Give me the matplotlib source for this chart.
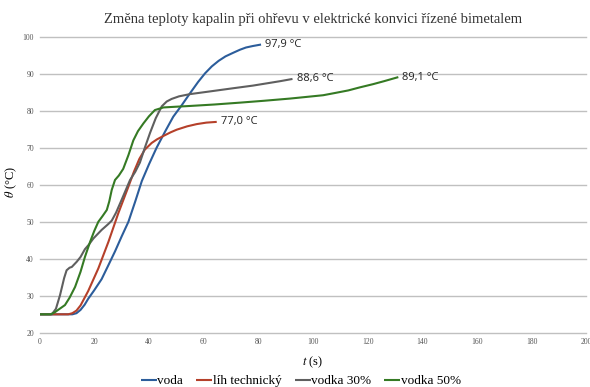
import matplotlib
matplotlib.use("Agg")
import matplotlib.pyplot as plt

# namerene hodnoty
t_voda = [0, 12, 13.5, 15, 16.5, 17.8, 20, 22.7, 25, 27.6, 30, 32.5, 35, 37.4, 40, 42.8, 46, 48.9, 52, 55, 58, 60.5, 63, 65.5, 68, 70.9, 73.3, 75.5, 78, 81]
T_voda = [25, 25, 25.3, 26.2, 27.6, 29.2, 31.5, 34.5, 38, 42, 46, 50, 55.5, 61, 65.5, 70, 74.5, 78.4, 81.5, 84.7, 87.8, 90.1, 92, 93.5, 94.7, 95.7, 96.5, 97.1, 97.5, 97.9]

t_lih = [0, 10.5, 12, 13.5, 15, 17.8, 21.5, 25.2, 28.8, 32.5, 34.5, 36.5, 38.5, 41, 43, 45.3, 48, 50.2, 54, 57.5, 61, 64.8]
T_lih = [25, 25, 25.3, 26, 27.4, 31.3, 37.4, 44.6, 52.3, 59.5, 63.5, 67, 69.5, 71.3, 72.3, 73.2, 74.2, 74.9, 75.8, 76.4, 76.8, 77.0]

t_v30 = [0, 4.5, 6, 7.5, 9, 9.9, 11, 11.8, 13.6, 15, 16.6, 18, 19.7, 22.7, 25, 26.4, 28, 30, 33.1, 35, 36.7, 38.5, 40.4, 42.5, 44.7, 46.5, 48.3, 51, 55, 62, 70.9, 78, 83, 88, 92.5]
T_v30 = [25, 25, 26.5, 30.2, 34.8, 36.9, 37.6, 37.8, 39.2, 40.5, 42.6, 43.8, 45.5, 47.8, 49.3, 50.3, 52.5, 55.9, 61.3, 63.5, 66, 70, 74, 78, 81.2, 82.5, 83.2, 83.9, 84.5, 85.2, 86.1, 86.8, 87.4, 88.0, 88.6]

t_v50 = [0, 4, 5.5, 7, 9.3, 11, 13, 15, 16.6, 18.5, 20, 21.5, 23, 24.6, 25.5, 26.4, 27.6, 29, 30.6, 32.5, 34.3, 36, 38, 40, 42.2, 45.3, 50, 55, 64, 73.3, 82, 91.6, 97, 103.7, 108, 112.9, 117, 122, 126, 131.2]
T_v50 = [25, 25, 25.5, 26.3, 27.5, 29.5, 32.4, 36.5, 40.5, 44.6, 47.5, 50, 51.5, 53.2, 55.5, 58.6, 61.3, 62.5, 64.3, 68, 72, 74.5, 76.6, 78.5, 80.2, 80.9, 81.1, 81.3, 81.7, 82.2, 82.7, 83.3, 83.7, 84.2, 84.8, 85.5, 86.3, 87.2, 88, 89.1]

names = ["voda", "líh technický", "vodka 30%", "vodka 50%"]
colors = ["#2c5d9b", "#b5402a", "#5f5f5f", "#357a24"]
end_labels = ["97,9 °C", "77,0 °C", "88,6 °C", "89,1 °C"]

plt.rcParams["font.family"] = ["Liberation Serif", "DejaVu Serif"]
plt.rcParams["mathtext.fontset"] = "stix"

fig = plt.figure(figsize=(5.9, 3.87), dpi=100)
ax = fig.add_axes([0.067, 0.14, 0.927, 0.765])

series = [(t_voda, T_voda), (t_lih, T_lih), (t_v30, T_v30), (t_v50, T_v50)]
for (t, T), name, c, lab in zip(series, names, colors, end_labels):
    ax.plot(t, T, color=c, lw=1.5, label=name, solid_capstyle="butt")
    ax.annotate(lab, (t[-1], T[-1]), xytext=(3, 0), textcoords="offset points",
                va="center", ha="left", fontsize=8, family="Open Sans", color="#222222")

ax.set_xlim(0, 200)
ax.set_ylim(20, 100)
ax.set_xticks(range(0, 201, 20))
ax.set_yticks(range(20, 101, 10))
ax.grid(axis="y", color="#c0c0c0", lw=1)
for gl in ax.get_ygridlines():
    gl.set_clip_on(False)
ax.set_axisbelow(True)
for s in ax.spines.values():
    s.set_visible(False)
ax.tick_params(length=0, labelsize=5.5, labelcolor="#555555", pad=4)

ax.set_title("Změna teploty kapalin při ohřevu v elektrické konvici řízené bimetalem",
             fontsize=10.5, color="#333333", pad=10)
ax.set_xlabel(r"$t$ (s)", fontsize=9)
ax.set_ylabel(r"$\theta$ (°C)", fontsize=9)
ax.xaxis.set_label_coords(0.5, -0.075)
ax.yaxis.set_label_coords(-0.038, 0.51)

fig.legend(loc="center", bbox_to_anchor=(0.51, 0.015), ncol=4, frameon=False,
           fontsize=9.5, handlelength=1.2, handletextpad=0.05, columnspacing=1.0,
           borderpad=0)

fig.savefig("out.png", dpi=100)
